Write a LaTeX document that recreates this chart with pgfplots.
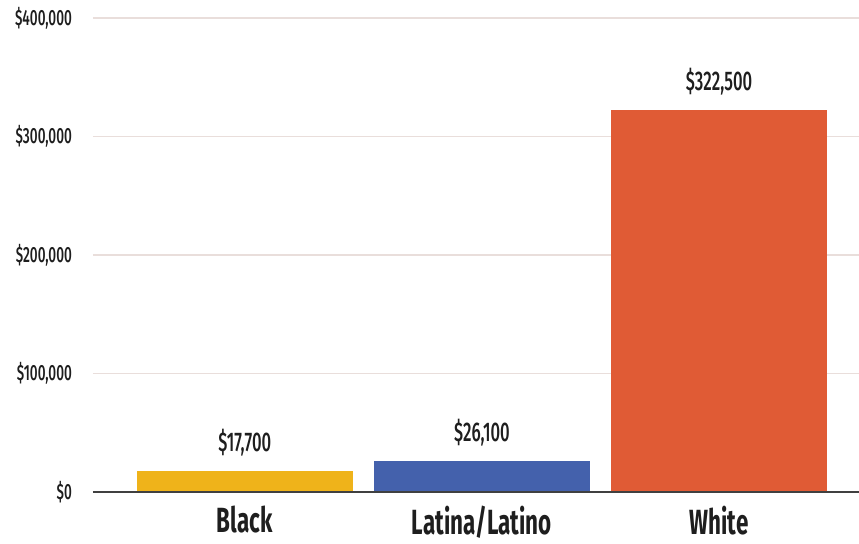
\documentclass[border=0pt]{standalone}
\usepackage{fontspec}
\setmainfont{Fira Sans}[FakeStretch=0.64]
\newfontfamily\medfont{Fira Sans Medium}[FakeStretch=0.62]
\usepackage{pgfplots}
\pgfplotsset{compat=1.18}
\definecolor{cyel}{HTML}{EFB31A}
\definecolor{cblu}{HTML}{4461AC}
\definecolor{cred}{HTML}{E05B35}
\definecolor{cgrid}{HTML}{E9DEDB}
\definecolor{ctxt}{HTML}{1E1E1E}
\begin{document}
\begin{tikzpicture}
\useasboundingbox (0,0) rectangle (429.5pt,271.5pt);
\begin{axis}[
  at={(46.5pt,25.5pt)}, anchor=south west,
  scale only axis, width=383pt, height=237pt,
  xmin=-0.64, xmax=2.59, ymin=0, ymax=400000,
  axis line style={draw=none},
  ytick={0,100000,200000,300000,400000},
  yticklabels={{\$0},{\$100,000},{\$200,000},{\$300,000},{\$400,000}},
  yticklabel style={font=\medfont\fontsize{11}{12}\selectfont, text=ctxt, xshift=-7pt},
  xtick={0,1,2},
  xticklabels={Black,Latina/Latino,White},
  xticklabel style={font=\fontsize{17.5}{20}\selectfont\bfseries, text=ctxt, yshift=-3.5pt},
  major tick length=0pt,
  ymajorgrids, grid style={cgrid, line width=0.6pt},
  scaled y ticks=false,
  ybar, bar width=108pt, bar shift=0pt,
  point meta=explicit symbolic,
  nodes near coords,
  every node near coord/.style={font=\medfont\fontsize{13.5}{16}\selectfont, text=ctxt, yshift=4pt},
  clip=false,
]
\addplot[fill=cyel, draw=none] coordinates {(0,17700) [{\$17,700}]};
\addplot[fill=cblu, draw=none] coordinates {(1,26100) [{\$26,100}]};
\addplot[fill=cred, draw=none] coordinates {(2,322500) [{\$322,500}]};
\draw[color=black!75, line width=1.1pt] (axis cs:-0.64,0) -- (axis cs:2.59,0);
\end{axis}
\end{tikzpicture}
\end{document}
